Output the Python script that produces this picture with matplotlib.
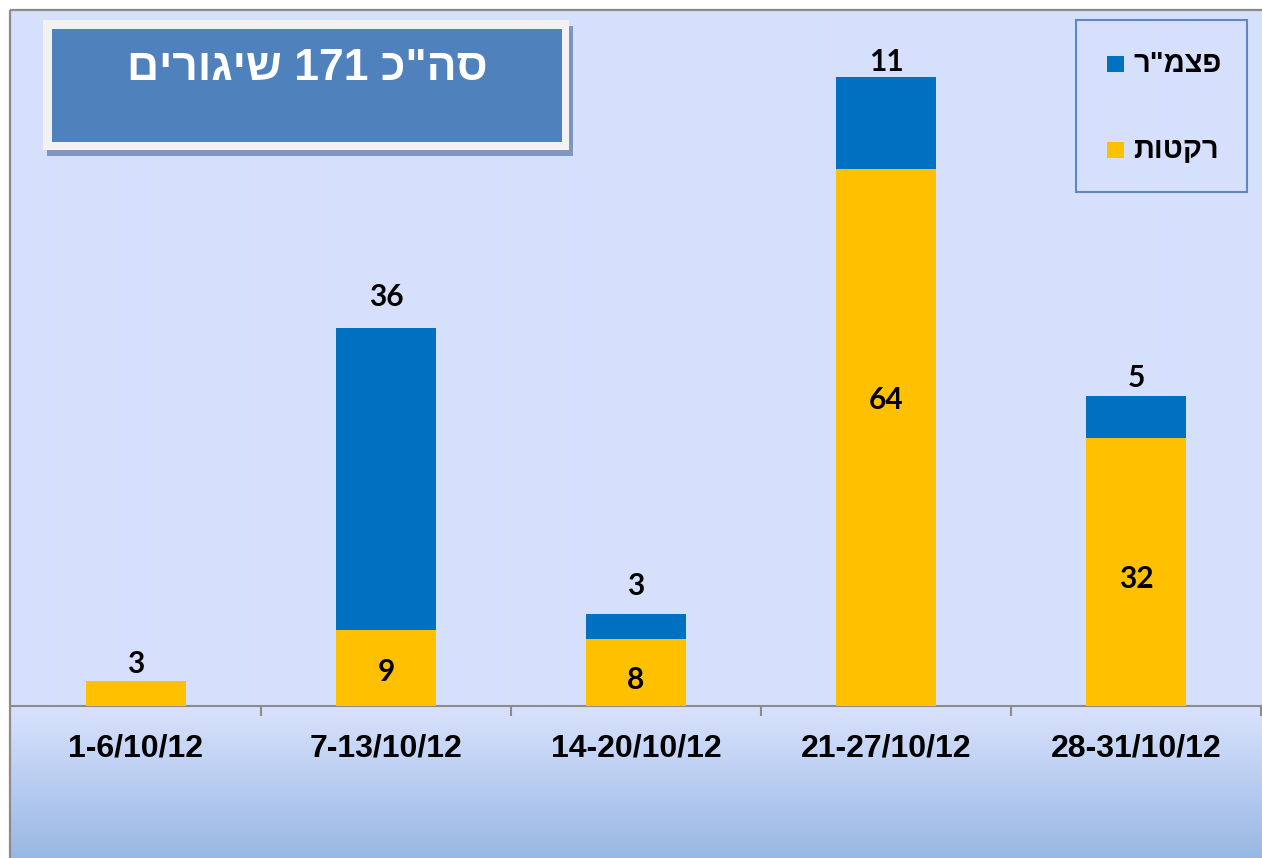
import re
import numpy as np
import matplotlib
matplotlib.use("Agg")
import matplotlib.pyplot as plt
from matplotlib.patches import Rectangle

# ---------------- data ----------------
categories = ["1-6/10/12", "7-13/10/12", "14-20/10/12", "21-27/10/12", "28-31/10/12"]
rockets = [3, 9, 8, 64, 32]          # רקטות
mortars = [0, 36, 3, 11, 5]          # פצמ"ר
series_names = ['פצמ"ר', "רקטות"]
title_text = 'סה"כ 171 שיגורים'

# ---------------- style ----------------
W, H = 1262, 858
YELLOW = "#FFC000"
BLUE = "#0070C0"
GRAY = "#8C8C8C"
HEB = ["Liberation Sans", "DejaVu Sans"]
NUM = ["Lato", "DejaVu Sans"]
# label placement tweaks (style only)
rocket_label_frac = [None, 0.48, 0.42, 0.574, 0.48]   # None -> above bar
top_label_offset_px = [19, 33, 30, 17, 20]


def visual(s):
    """Convert logical RTL Hebrew string to visual LTR order for matplotlib."""
    r = s[::-1]
    return re.sub(r"[0-9]+", lambda m: m.group(0)[::-1], r)


fig = plt.figure(figsize=(W / 100, H / 100), dpi=100)
fig.patch.set_facecolor("white")

# background axes in pixel coordinates
bg = fig.add_axes([0, 0, 1, 1])
bg.set_xlim(0, W)
bg.set_ylim(H, 0)
bg.axis("off")

top_c = np.array([0xD6, 0xE0, 0xFC]) / 255
bot_c = np.array([0x98, 0xB8, 0xE4]) / 255
ys = np.arange(10, H)
t = np.clip((ys - 714) / (H - 714), 0, 1)
cols = top_c[None, :] * (1 - t[:, None]) + bot_c[None, :] * t[:, None]
img = np.repeat(cols[:, None, :], 2, axis=1)
bg.imshow(img, extent=(10, W, H, 10), aspect="auto", interpolation="bilinear", zorder=0)

# frame lines
bg.plot([10, 10], [10, H], color=GRAY, lw=1.6, zorder=1, solid_capstyle="butt")
bg.plot([10, W], [10, 10], color=GRAY, lw=1.6, zorder=1, solid_capstyle="butt")

# title box
bg.add_patch(Rectangle((47, 26), 526, 130, facecolor="#7F97BF", edgecolor="none", zorder=2))
bg.add_patch(Rectangle((43, 20), 526, 130, facecolor="#F2F2F2", edgecolor="none", zorder=3))
bg.add_patch(Rectangle((52, 29), 510, 113, facecolor="#4F81BD", edgecolor="none", zorder=4))
bg.text(307, 68, visual(title_text), ha="center", va="center", color="white",
        fontsize=32, fontweight="bold", family=HEB, zorder=5)

# legend box
bg.add_patch(Rectangle((1076, 20), 171, 172, facecolor="none", edgecolor="#5F88C2", lw=1.5, zorder=2))
leg_colors = [BLUE, YELLOW]
leg_y = [64, 150]
for name, c, yy in zip(series_names, leg_colors, leg_y):
    bg.add_patch(Rectangle((1107, yy - 8), 17, 16, facecolor=c, edgecolor="none", zorder=3))
    bg.text(1133, yy, visual(name), ha="left", va="center", fontsize=21,
            fontweight="bold", family=HEB, color="black", zorder=3)

# main axes
PX_PER_UNIT = 8.39
ax = fig.add_axes([11 / W, (H - 706) / H, 1250 / W, (706 - 10) / H])
ax.set_xlim(-0.5, 4.5)
ax.set_ylim(0, (706 - 10) / PX_PER_UNIT)
ax.patch.set_alpha(0)
for s in ["left", "right", "top"]:
    ax.spines[s].set_visible(False)
ax.spines["bottom"].set_color(GRAY)
ax.spines["bottom"].set_linewidth(1.5)
ax.set_yticks([])

x = np.arange(len(categories))
ax.bar(x, rockets, 0.4, color=YELLOW, zorder=3)
ax.bar(x, mortars, 0.4, bottom=rockets, color=BLUE, zorder=3)

ax.set_xticks(x)
ax.set_xticklabels(categories, fontsize=23, fontweight="bold", family=HEB)
ax.tick_params(axis="x", which="major", length=0, pad=20)
ax.set_xticks(np.arange(0.5, len(categories), 1.0), minor=True)
ax.tick_params(axis="x", which="minor", length=7.5, width=1.5, color=GRAY, direction="out")

lab_kw = dict(ha="center", va="center", fontsize=21.5, fontweight="bold", family=NUM,
              color="black", zorder=5)
for i in range(len(categories)):
    r, m = rockets[i], mortars[i]
    total = r + m
    if m > 0:
        ax.annotate(str(m), (x[i], total), xytext=(0, top_label_offset_px[i] - 2),
                    textcoords="offset pixels", **lab_kw)
    frac = rocket_label_frac[i]
    if frac is None:
        ax.annotate(str(r), (x[i], r), xytext=(0, top_label_offset_px[i] - 2),
                    textcoords="offset pixels", **lab_kw)
    else:
        ax.annotate(str(r), (x[i], r * frac), xytext=(0, -2),
                    textcoords="offset pixels", **lab_kw)

fig.savefig("out.png", dpi=100, facecolor=fig.get_facecolor())
